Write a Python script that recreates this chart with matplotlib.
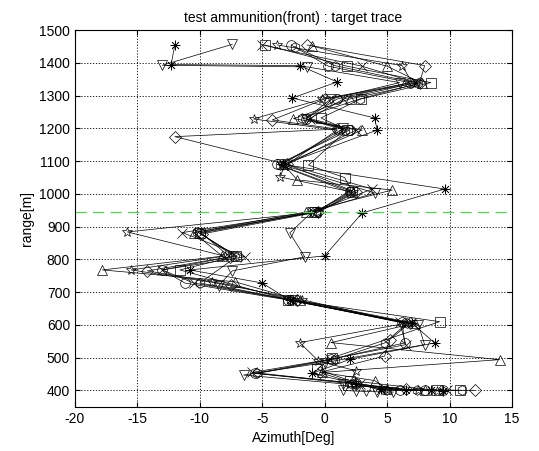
import matplotlib
matplotlib.use('Agg')
import matplotlib.pyplot as plt

plt.rcParams['font.family'] = ['Liberation Sans', 'DejaVu Sans']
plt.rcParams['axes.unicode_minus'] = False

# track data: range [m] and azimuth [deg] for each test shot
rng_a = [1455, 1395, 1392, 1342, 1293, 1232, 1195, 1090, 1015, 942, 811, 768, 728, 675, 605, 545, 495, 452, 420, 405, 402, 400, 399]
az_a = [-12.0, -12.3, -2.0, 1.0, -2.6, 4.0, 4.2, -3.3, 9.6, 3.0, 0.0, -10.8, -5.0, -2.8, 7.0, 8.8, 2.0, -1.0, 2.5, 4.5, 6.5, 8.5, 9.5]

rng_b = [1457, 1393, 1388, 1340, 1290, 1230, 1200, 1090, 1003, 945, 881, 808, 765, 720, 675, 600, 540, 485, 447, 420, 400, 398, 397, 396, 395]
az_b = [-7.4, -13.0, -1.4, 6.0, 0.5, -1.5, 1.5, -3.5, 4.0, -1.0, -2.8, -1.6, -7.4, -8.5, -2.5, 7.5, 8.0, 0.0, -6.5, 1.5, 1.5, 2.5, 3.3, 4.2, 5.5]

rng_c = [1455, 1392, 1340, 1290, 1229, 1195, 1085, 1052, 1005, 945, 884, 810, 768, 730, 677, 605, 546, 490, 460, 420, 402, 400, 398]
az_c = [-3.8, 6.2, 7.0, -0.2, -5.7, 1.0, -3.2, -3.6, 2.3, -0.5, -15.8, -8.0, -15.5, -9.0, -1.8, 6.5, -2.0, -0.5, 2.5, 2.0, 5.0, 7.5, 9.0]

rng_d = [1455, 1390, 1340, 1290, 1230, 1195, 1090, 1005, 945, 882, 810, 768, 728, 676, 608, 545, 495, 452, 422, 402, 400, 400]
az_d = [-2.7, 0.3, 6.8, 1.0, -1.5, 2.0, -3.8, 2.0, -0.8, -10.0, -7.3, -13.0, -11.2, -2.9, 6.2, 6.4, 0.5, -5.6, 2.5, 6.0, 8.0, 9.5]

rng_e = [1455, 1392, 1340, 1290, 1226, 1198, 1175, 1090, 1005, 945, 878, 808, 765, 722, 675, 605, 555, 505, 455, 420, 403, 400]
az_e = [-1.4, 8.0, 7.6, 0.0, -4.2, 1.0, -12.0, -3.0, 2.5, -0.5, -9.8, -7.6, -14.2, -7.5, -2.2, 6.8, 5.2, 4.8, -0.4, 2.5, 6.5, 12.0]

rng_f = [1452, 1390, 1338, 1290, 1230, 1195, 1090, 1043, 1012, 945, 882, 810, 768, 732, 675, 605, 546, 494, 455, 430, 405, 400]
az_f = [-1.0, 5.0, 7.8, 2.0, -2.5, 3.0, -3.3, -2.2, 5.4, -1.5, -10.5, -8.2, -17.8, -7.2, -2.0, 7.2, 0.5, 14.0, -0.2, 4.0, 5.0, 8.0]

rng_g = [1455, 1390, 1340, 1290, 1232, 1195, 1088, 1050, 1005, 945, 880, 810, 768, 677, 610, 500, 465, 430, 400, 400]
az_g = [-4.8, 1.8, 8.5, 2.9, -0.3, 1.8, -1.3, 1.6, 2.2, -0.8, -10.0, -7.1, -11.6, -2.9, 9.2, 0.6, -0.6, 2.0, 9.0, 10.8]

rng_h = [1455, 1390, 1340, 1290, 1230, 1195, 1090, 1015, 945, 882, 808, 768, 728, 675, 608, 540, 495, 455, 420, 400, 400]
az_h = [-5.0, 3.0, 7.3, 1.5, -1.2, 2.5, -3.0, 3.8, -0.9, -11.4, -6.4, -13.0, -10.5, -2.6, 6.0, 6.5, 0.4, -5.8, 2.8, 4.5, 9.8]

rng_i = [1450, 1392, 1338, 1290, 1232, 1195, 1088, 1010, 945, 884, 810, 728, 676, 605, 545, 495, 452, 420, 400, 400]
az_i = [-2.4, 0.8, 7.5, 2.8, -1.8, 1.6, -3.6, 2.0, -0.6, -10.2, -7.0, -10.0, -2.7, 6.6, 4.8, 0.8, -5.4, 2.2, 7.4, 11.0]

tracks = [
    (rng_a, az_a, (8, 2, 0)),
    (rng_b, az_b, 'v'),
    (rng_c, az_c, '*'),
    (rng_d, az_d, 'o'),
    (rng_e, az_e, 'D'),
    (rng_f, az_f, '^'),
    (rng_g, az_g, 's'),
    (rng_h, az_h, 'x'),
    (rng_i, az_i, 'h'),
]

fig = plt.figure(figsize=(5.39, 4.51), dpi=100)
ax = fig.add_axes([0.139, 0.098, 0.811, 0.835])

for r, a, m in tracks:
    ms = 6 if m == 'D' else 7
    ax.plot(a, r, color='k', lw=0.5, marker=m, markersize=ms,
            markerfacecolor='none', markeredgecolor='k', markeredgewidth=0.5)

# reference range
ax.axhline(945, color=(0.3, 0.85, 0.3), lw=0.9, linestyle=(0, (9, 5)))

ax.set_xlim(-20, 15)
ax.set_ylim(350, 1500)
ax.set_xticks(range(-20, 16, 5))
ax.set_yticks(range(400, 1501, 100))
ax.grid(True, linestyle=(0, (1.5, 2)), color='k', lw=0.6)
ax.tick_params(direction='in', top=True, right=True, labelsize=10)

ax.set_title('test ammunition(front) : target trace', fontsize=10)
ax.set_xlabel('Azimuth[Deg]', fontsize=10)
ax.set_ylabel('range[m]', fontsize=10)

fig.savefig('out.png', dpi=100)
